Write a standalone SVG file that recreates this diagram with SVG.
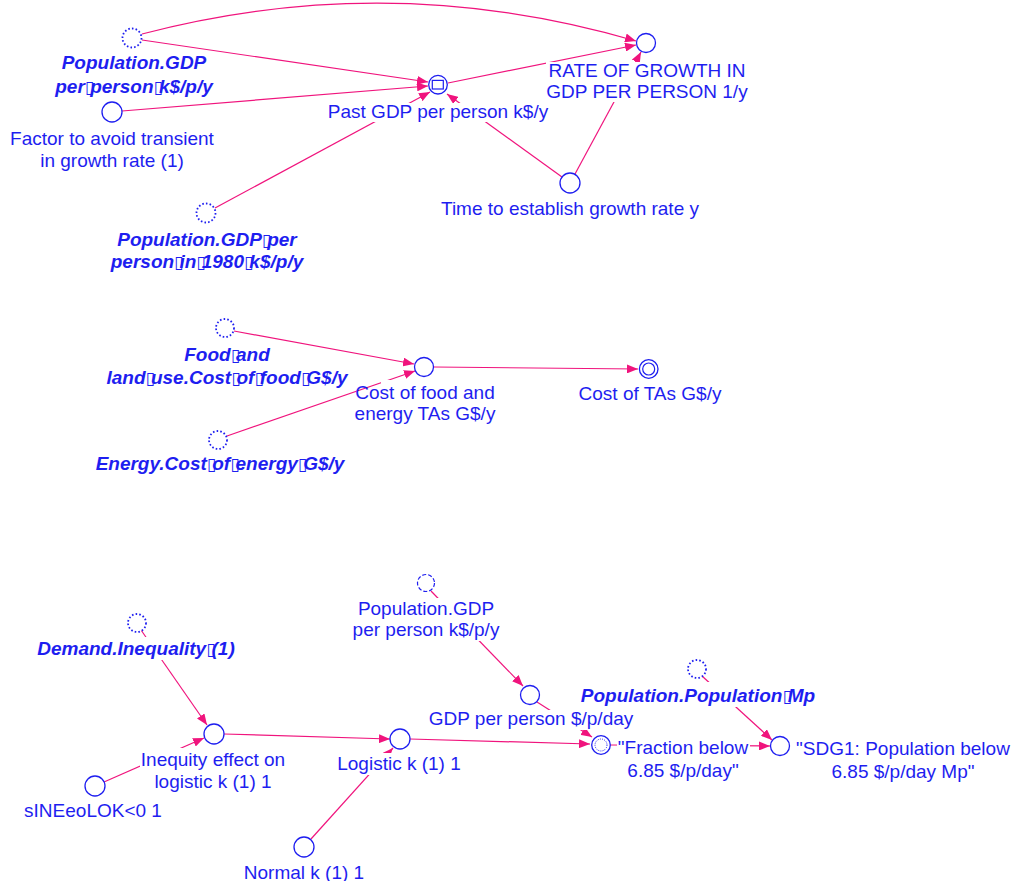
<svg xmlns="http://www.w3.org/2000/svg" width="1013" height="881" viewBox="0 0 1013 881">
  <style>
    text { font-family: "Liberation Sans", Arial, "DejaVu Sans", sans-serif; font-size: 19px; fill: #1e1ef0; text-anchor: middle; }
    text.shadow { font-weight: bold; font-style: italic; }
    tspan.nb { font-family: "DejaVu Sans", sans-serif; font-size: 17px; font-weight: normal; font-style: normal; letter-spacing: -4px; }
    .var { fill: #ffffff; stroke: #1e1ef0; stroke-width: 1.3; }
    .ghost { fill: #ffffff; stroke: #1e1ef0; stroke-width: 1.8; stroke-dasharray: 1.6 2.1; }
    .ghost-dash { fill: #ffffff; stroke: #1e1ef0; stroke-width: 1.2; stroke-dasharray: 4 2; }
    .inner { fill: none; stroke: #1e1ef0; stroke-width: 1.2; }
    .inner-dot { fill: none; stroke: #1e1ef0; stroke-width: 1; stroke-dasharray: 1 1.2; }
    .knock { fill: #ffffff; }
    .link { fill: none; stroke: #f0147d; stroke-width: 1.2; marker-end: url(#arrow); }
  </style>
  <defs>
    <marker id="arrow" markerUnits="userSpaceOnUse" markerWidth="11" markerHeight="9" refX="11" refY="4.5" orient="auto">
      <path d="M0,0 L11,4.5 L0,9 Z" fill="#f0147d"/>
    </marker>
  </defs>
  <rect width="1013" height="881" fill="#ffffff"/>

  <!-- causal links -->
  <g id="connectors">
    <path class="link" d="M142,34 Q390,-31 636,41"/>
    <path class="link" d="M142,40 L428,82"/>
    <path class="link" d="M122,111 L428,86"/>
    <path class="link" d="M215,208 L430,92"/>
    <path class="link" d="M448,83 L636,45"/>
    <path class="link" d="M562,177 L447,94"/>
    <path class="link" d="M575,174 L641,52"/>
    <path class="link" d="M234,331 L414,364"/>
    <path class="link" d="M227,436 L415,371"/>
    <path class="link" d="M434,367 L638,369"/>
    <path class="link" d="M141,630 L207,725"/>
    <path class="link" d="M104,782 L204,738"/>
    <path class="link" d="M224,734 L390,739"/>
    <path class="link" d="M311,839 L393,748"/>
    <path class="link" d="M410,739 L590,744"/>
    <path class="link" d="M431,591 L523,686"/>
    <path class="link" d="M537,702 L592,737"/>
    <path class="link" d="M610,745 L770,746"/>
    <path class="link" d="M702,676 L772,740"/>
  </g>

  <!-- GDP growth sector -->
  <g id="pop-gdp-per-person-shadow">
    <circle class="ghost" cx="132" cy="38" r="9.5"/>
    <text class="shadow" x="134" y="69">Population.GDP</text>
    <text class="shadow" x="134" y="93">per<tspan class="nb">▯</tspan>person<tspan class="nb">▯</tspan>k$/p/y</text>
  </g>
  <g id="factor-avoid-transient">
    <circle class="var" cx="112" cy="112" r="10"/>
    <text x="112" y="145">Factor to avoid transient</text>
    <text x="112" y="167">in growth rate (1)</text>
  </g>
  <g id="pop-gdp-1980-shadow">
    <circle class="ghost" cx="206" cy="213" r="9.5"/>
    <text class="shadow" x="207" y="246">Population.GDP<tspan class="nb">▯</tspan>per</text>
    <text class="shadow" x="207" y="268">person<tspan class="nb">▯</tspan>in<tspan class="nb">▯</tspan>1980<tspan class="nb">▯</tspan>k$/p/y</text>
  </g>
  <g id="past-gdp-per-person">
    <rect class="knock" x="327" y="103" width="223" height="19"/>
    <circle class="var" cx="438" cy="84.7" r="9.3"/>
    <rect class="inner" x="432.3" y="80.4" width="11" height="8.6"/>
    <text x="438" y="118">Past GDP per person k$/y</text>
  </g>
  <g id="rate-of-growth">
    <rect class="knock" x="546" y="62" width="202" height="40"/>
    <circle class="var" cx="646" cy="43" r="9.5"/>
    <text x="647" y="77">RATE OF GROWTH IN</text>
    <text x="647" y="98">GDP PER PERSON 1/y</text>
  </g>
  <g id="time-to-establish">
    <circle class="var" cx="570" cy="183" r="10"/>
    <text x="570" y="215">Time to establish growth rate y</text>
  </g>

  <!-- cost of transformation actions -->
  <g id="cost-of-food-shadow">
    <circle class="ghost" cx="225" cy="328" r="9"/>
    <text class="shadow" x="227" y="361">Food<tspan class="nb">▯</tspan>and</text>
    <text class="shadow" x="227" y="384">land<tspan class="nb">▯</tspan>use.Cost<tspan class="nb">▯</tspan>of<tspan class="nb">▯</tspan>food<tspan class="nb">▯</tspan>G$/y</text>
  </g>
  <g id="cost-of-energy-shadow">
    <circle class="ghost" cx="218" cy="440" r="9"/>
    <text class="shadow" x="220" y="470">Energy.Cost<tspan class="nb">▯</tspan>of<tspan class="nb">▯</tspan>energy<tspan class="nb">▯</tspan>G$/y</text>
  </g>
  <g id="cost-food-energy-tas">
    <rect class="knock" x="381" y="380" width="90" height="44"/>
    <circle class="var" cx="424" cy="367" r="9.5"/>
    <text x="425" y="399">Cost of food and</text>
    <text x="425" y="420">energy TAs G$/y</text>
  </g>
  <g id="cost-of-tas">
    <circle class="var" cx="648.7" cy="369" r="9.3"/>
    <circle class="inner" cx="648.7" cy="369" r="6"/>
    <text x="650" y="400">Cost of TAs G$/y</text>
  </g>

  <!-- poverty indicator -->
  <g id="inequality-shadow">
    <rect class="knock" x="37" y="637" width="199" height="23"/>
    <circle class="ghost" cx="137" cy="623" r="9"/>
    <text class="shadow" x="136" y="655">Demand.Inequality<tspan class="nb">▯</tspan>(1)</text>
  </g>
  <g id="inequity-effect">
    <rect class="knock" x="140" y="748" width="147" height="45"/>
    <circle class="var" cx="214" cy="734" r="10"/>
    <text x="213" y="766">Inequity effect on</text>
    <text x="213" y="788">logistic k (1) 1</text>
  </g>
  <g id="sineeolok">
    <circle class="var" cx="95" cy="786" r="10"/>
    <text x="93" y="817">sINEeoLOK&lt;0 1</text>
  </g>
  <g id="logistic-k">
    <rect class="knock" x="338" y="753" width="122" height="22"/>
    <circle class="var" cx="400" cy="739" r="10"/>
    <text x="399" y="770">Logistic k (1) 1</text>
  </g>
  <g id="normal-k">
    <circle class="var" cx="304" cy="847" r="10"/>
    <text x="304" y="879">Normal k (1) 1</text>
  </g>
  <g id="pop-gdp-per-person-ref">
    <rect class="knock" x="352" y="598" width="148" height="43"/>
    <circle class="ghost-dash" cx="426" cy="583" r="8.5"/>
    <text x="426" y="615">Population.GDP</text>
    <text x="426" y="636">per person k$/p/y</text>
  </g>
  <g id="gdp-per-person-day">
    <rect class="knock" x="427" y="710" width="208" height="20"/>
    <circle class="var" cx="530" cy="695" r="9.5"/>
    <text x="531" y="725">GDP per person $/p/day</text>
  </g>
  <g id="fraction-below">
    <rect class="knock" x="617" y="738" width="133" height="44"/>
    <circle class="var" cx="601" cy="745" r="9.3"/>
    <circle class="inner-dot" cx="601" cy="745" r="6"/>
    <text x="683" y="754">"Fraction below</text>
    <text x="683" y="777">6.85 $/p/day"</text>
  </g>
  <g id="population-shadow">
    <rect class="knock" x="579" y="682" width="238" height="25"/>
    <circle class="ghost" cx="697" cy="669" r="9"/>
    <text class="shadow" x="698" y="702">Population.Population<tspan class="nb">▯</tspan>Mp</text>
  </g>
  <g id="sdg1-population-below">
    <circle class="var" cx="780" cy="746" r="9.5"/>
    <text x="903" y="755">"SDG1: Population below</text>
    <text x="903" y="778">6.85 $/p/day Mp"</text>
  </g>
</svg>
